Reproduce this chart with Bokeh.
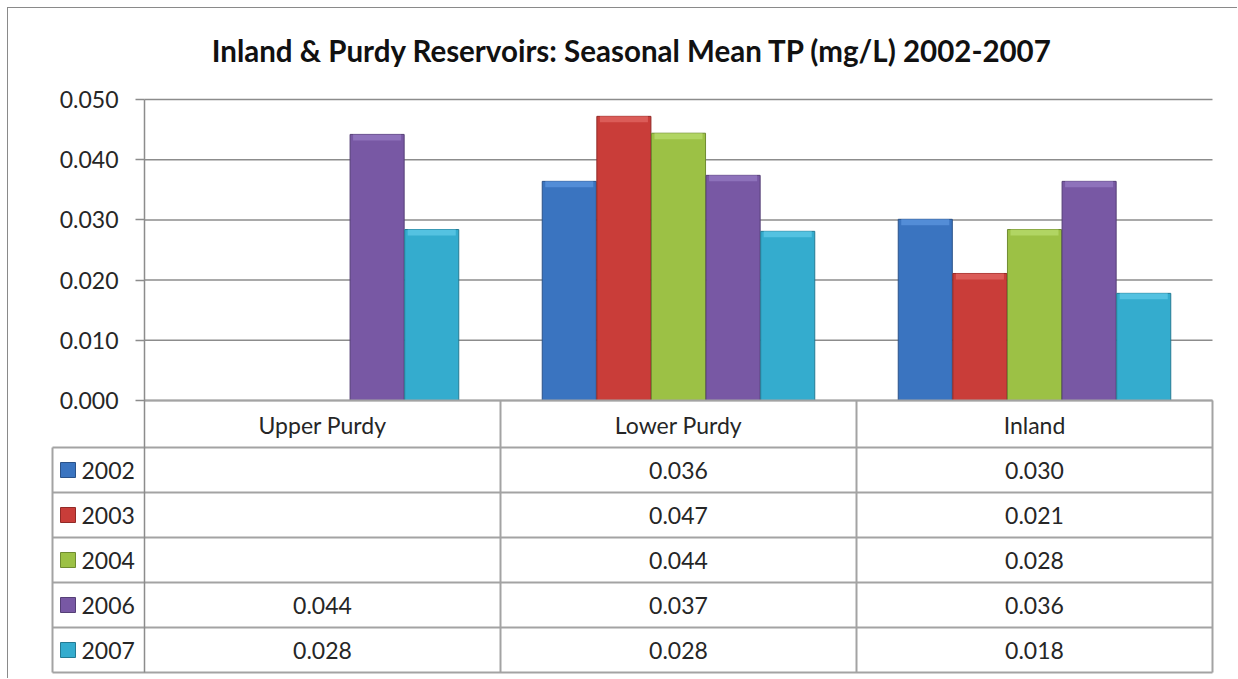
from bokeh.plotting import figure
from bokeh.models import Range1d, FixedTicker, PrintfTickFormatter, ColumnDataSource
from bokeh.embed import file_html
from bokeh.resources import INLINE
from bokeh.core.properties import value

# ---------------- data ----------------
reservoirs = ["Upper Purdy", "Lower Purdy", "Inland"]
years = ["2002", "2003", "2004", "2006", "2007"]
tp_2002 = [None, 0.0364, 0.0301]
tp_2003 = [None, 0.0472, 0.0211]
tp_2004 = [None, 0.0444, 0.0284]
tp_2006 = [0.0442, 0.0374, 0.0364]
tp_2007 = [0.0284, 0.0281, 0.0178]
y_ticks = [0.0, 0.01, 0.02, 0.03, 0.04, 0.05]
title_text = "Inland & Purdy Reservoirs: Seasonal Mean TP (mg/L) 2002-2007"

series = [tp_2002, tp_2003, tp_2004, tp_2006, tp_2007]
colors = ["#3a74c0", "#c93d39", "#9cc145", "#7858a4", "#34acce"]
edges = ["#2a5289", "#922a27", "#6f8c30", "#553f76", "#237a93"]
tops = ["#5a93dc", "#e06460", "#b7d96a", "#9379c0", "#5cc8e6"]

FONT = "Lato"
FS = "23px"
TXT = "#262626"
GRID = "#8c8c8c"
TAB = "#a3a3a3"

# pixel -> data helpers (layout only)
PX_X = 1.0 / 356.0          # one pixel in x data units
PX_Y = 0.05 / 301.0         # one pixel in y data units

n_cat = len(reservoirs)
left_col = -92 * PX_X
header_bottom = -47 * PX_Y
row_h = 45 * PX_Y
table_bottom = header_bottom - len(years) * row_h

p = figure(
    width=1230, height=671,
    x_range=Range1d(-94 * PX_X, n_cat + 2 * PX_X),
    y_range=Range1d(table_bottom - 2 * PX_Y, 0.05 + 14 * PX_Y),
    output_backend="svg", toolbar_location=None,
    min_border_left=42, min_border_right=24, min_border_top=77, min_border_bottom=5,
    x_axis_type=None,
)
p.margin = (7, 0, 0, 7)
p.styles = {"border-top": "1px solid #8a8a8a", "border-left": "1px solid #8a8a8a"}
p.outline_line_color = None
p.xgrid.visible = False
p.ygrid.visible = False
p.background_fill_color = "white"
p.border_fill_color = "white"

p.title.text = title_text
p.title.align = "center"
p.title.text_font = FONT
p.title.text_font_style = "bold"
p.title.text_font_size = "29.5px"
p.title.text_color = "#111111"
p.title.standoff = 36

# y axis placed at x=0 inside the frame
ax = p.yaxis[0]
ax.fixed_location = 0
ax.ticker = FixedTicker(ticks=y_ticks)
ax.formatter = PrintfTickFormatter(format="%.3f")
ax.bounds = (table_bottom, 0.05)
ax.axis_line_color = GRID
ax.axis_line_width = 1.5
ax.major_tick_out = 9
ax.major_tick_in = 0
ax.major_tick_line_color = GRID
ax.major_tick_line_width = 1.5
ax.minor_tick_line_color = None
ax.major_label_text_font = FONT
ax.major_label_text_font_size = FS
ax.major_label_text_color = TXT
ax.major_label_standoff = 17

# gridlines at the tick values
p.segment(x0=[0] * len(y_ticks), x1=[n_cat] * len(y_ticks), y0=y_ticks, y1=y_ticks,
          line_color=GRID, line_width=1.5)

# bars
group = 0.767
bw = group / len(years)
for i, (yr, vals) in enumerate(zip(years, series)):
    xs, ts = [], []
    for k, v in enumerate(vals):
        if v is not None:
            xs.append(k + 0.5 + (i - 2) * bw)
            ts.append(v)
    if not xs:
        continue
    src = ColumnDataSource(dict(x=xs, top=ts))
    p.vbar(x="x", top="top", bottom=0, width=bw * 0.99, source=src,
           fill_color=colors[i], line_color=edges[i], line_width=1)
    cap = ColumnDataSource(dict(x=xs, top=ts, bot=[t - 6 * PX_Y for t in ts]))
    p.vbar(x="x", top="top", bottom="bot", width=bw * 0.99 - 6 * PX_X, source=cap,
           fill_color=tops[i], line_color=None, fill_alpha=0.8)

# data table: lines
hx0, hx1, hy0, hy1 = [], [], [], []
hx0.append(0); hx1.append(n_cat); hy0.append(0); hy1.append(0)
for r in range(len(years) + 1):
    yy = header_bottom - r * row_h
    hx0.append(left_col); hx1.append(n_cat); hy0.append(yy); hy1.append(yy)
p.segment(x0=hx0, x1=hx1, y0=hy0, y1=hy1, line_color=TAB, line_width=2)
vx = [left_col] + [k for k in range(1, n_cat + 1)]
vy0 = [header_bottom] + [0] * n_cat
p.segment(x0=vx, x1=vx, y0=vy0, y1=[table_bottom] * len(vx), line_color=TAB, line_width=2)

# category header labels
p.text(x=[k + 0.5 for k in range(n_cat)], y=[-24 * PX_Y] * n_cat, text=reservoirs,
       text_align="center", text_baseline="middle", text_font=value(FONT),
       text_font_size=FS, text_color=TXT)

# legend keys + year labels + values
row_c = [header_bottom - (r + 0.5) * row_h for r in range(len(years))]
p.scatter(x=[-76.5 * PX_X] * len(years), y=row_c, marker="square", size=15,
          fill_color=colors, line_color=edges, line_width=1)
p.text(x=[-63 * PX_X] * len(years), y=row_c, text=years, text_align="left",
       text_baseline="middle", text_font=value(FONT), text_font_size=FS, text_color=TXT)
tx, ty, tt = [], [], []
for r, vals in enumerate(series):
    for k, v in enumerate(vals):
        if v is not None:
            tx.append(k + 0.5); ty.append(row_c[r]); tt.append(f"{v:.3f}")
p.text(x=tx, y=ty, text=tt, text_align="center", text_baseline="middle",
       text_font=value(FONT), text_font_size=FS, text_color=TXT)

open("out.html", "w").write(file_html(p, INLINE))
